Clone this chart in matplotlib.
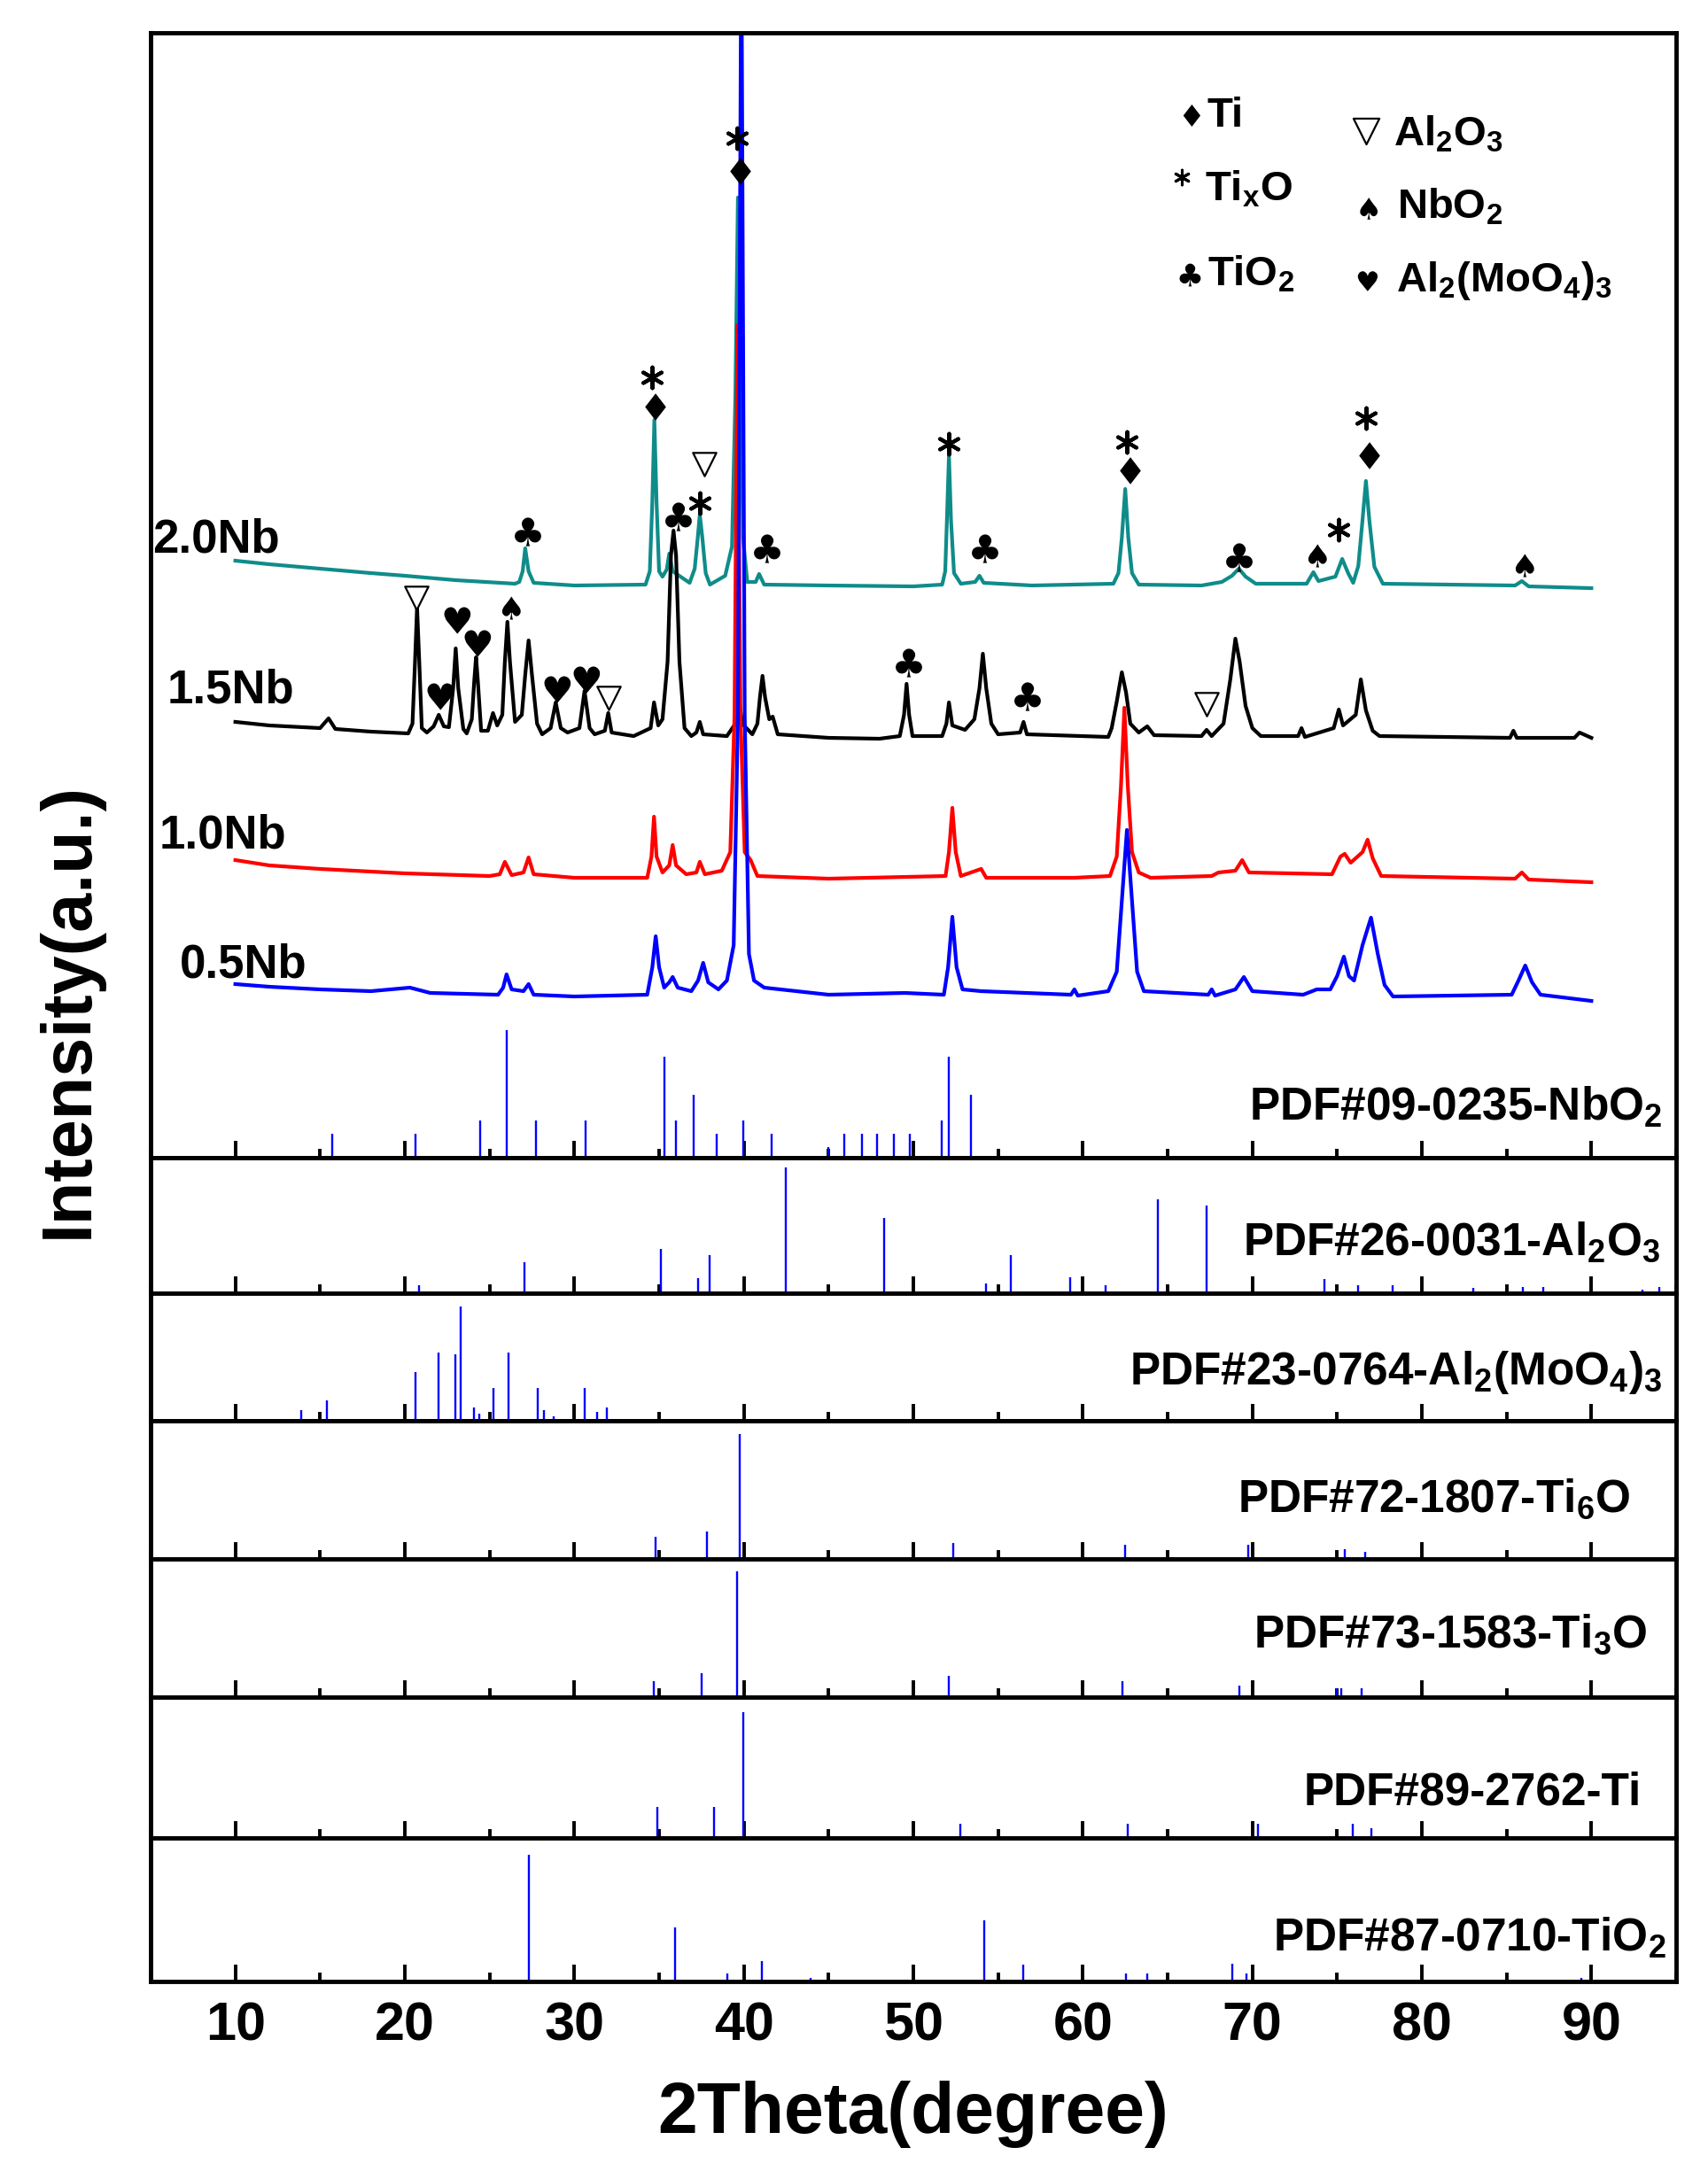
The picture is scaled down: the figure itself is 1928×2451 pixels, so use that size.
import matplotlib
matplotlib.use('Agg')
import matplotlib.pyplot as plt
from matplotlib.ticker import MultipleLocator, FixedLocator
from matplotlib.textpath import TextPath
from matplotlib.font_manager import FontProperties
from matplotlib.path import Path

# ---- data ----
# XRD patterns: (2theta, intensity a.u.) points, offset stacked as in the figure
pat_20 = [(10.0, 674), (12, 670), (15, 665), (18, 660), (20, 657), (23, 652), (26.5, 648),
          (26.75, 650), (26.95, 662), (27.1, 688), (27.3, 662), (27.6, 649), (30, 646), (34.2, 647),
          (34.45, 662), (34.6, 740), (34.72, 833), (34.85, 740), (35.0, 662), (35.2, 656),
          (35.45, 664), (35.6, 682), (35.8, 662), (36.8, 649), (37.1, 665), (37.28, 700),
          (37.4, 726), (37.55, 700), (37.75, 660), (38.0, 647), (38.9, 657), (39.3, 690),
          (39.5, 860), (39.65, 1084), (39.8, 900), (39.95, 700), (40.2, 650), (40.7, 650),
          (40.9, 659), (41.2, 647), (45, 646), (50, 645), (51.7, 647), (51.88, 662), (51.98, 720),
          (52.1, 793), (52.22, 720), (52.4, 660), (52.8, 648), (53.65, 650), (53.9, 657),
          (54.15, 649), (57, 646), (61.8, 648), (62.1, 660), (62.3, 700), (62.5, 755),
          (62.68, 700), (62.9, 660), (63.3, 647), (67, 646), (68.2, 650), (68.8, 657),
          (69.2, 665), (69.6, 656), (70.2, 648), (73.2, 648), (73.6, 661), (73.9, 651),
          (74.9, 656), (75.3, 676), (75.65, 660), (75.95, 649), (76.25, 668), (76.5, 720),
          (76.7, 764), (76.9, 720), (77.2, 667), (77.7, 648), (85.5, 646), (85.9, 651),
          (86.3, 645), (90.0, 643)]

pat_15 = [(10.0, 492), (12, 488), (15, 485), (15.5, 496), (15.9, 484), (18, 481), (20.2, 479),
          (20.45, 490), (20.6, 560), (20.72, 622), (20.85, 560), (21.0, 485), (21.3, 480),
          (21.7, 487), (22.0, 500), (22.3, 487), (22.6, 486), (22.85, 530), (23.0, 575),
          (23.15, 530), (23.45, 484), (23.65, 479), (23.95, 495), (24.1, 540), (24.2, 565),
          (24.3, 540), (24.5, 482), (24.9, 482), (25.2, 502), (25.45, 488), (25.75, 500),
          (25.9, 560), (26.05, 605), (26.2, 560), (26.5, 492), (26.9, 500), (27.1, 545),
          (27.3, 584), (27.5, 545), (27.8, 490), (28.1, 478), (28.6, 485), (28.9, 514),
          (29.2, 485), (29.6, 480), (30.3, 485), (30.6, 527), (30.9, 485), (31.2, 478),
          (31.8, 482), (32.0, 502), (32.2, 480), (33.5, 476), (34.5, 485), (34.7, 514),
          (34.95, 488), (35.2, 495), (35.5, 560), (35.7, 680), (35.85, 708), (36.0, 680),
          (36.2, 560), (36.5, 485), (36.9, 476), (37.2, 480), (37.4, 492), (37.6, 478),
          (39.0, 476), (39.5, 490), (39.7, 520), (39.9, 490), (40.5, 478), (40.8, 490),
          (40.95, 520), (41.1, 544), (41.25, 520), (41.5, 495), (41.7, 498), (42.0, 478),
          (45, 474), (48, 473), (49.2, 476), (49.45, 500), (49.6, 535), (49.75, 500),
          (49.95, 476), (51.7, 476), (51.95, 490), (52.1, 514), (52.3, 488), (53.05, 483),
          (53.6, 495), (53.9, 530), (54.1, 569), (54.3, 530), (54.6, 490), (55.0, 478),
          (56.3, 480), (56.5, 492), (56.7, 478), (61.5, 475), (61.7, 485), (62.0, 515),
          (62.3, 548), (62.55, 525), (62.8, 490), (63.3, 480), (63.8, 487), (64.2, 477),
          (67.0, 476), (67.3, 483), (67.6, 476), (68.3, 490), (68.7, 540), (69.0, 586),
          (69.25, 560), (69.6, 510), (70.0, 485), (70.5, 476), (72.7, 476), (72.9, 485),
          (73.1, 475), (74.8, 485), (75.1, 506), (75.35, 488), (76.1, 500), (76.4, 540),
          (76.7, 505), (77.1, 482), (77.5, 476), (85.2, 474), (85.4, 482), (85.6, 474),
          (89.0, 474), (89.3, 480), (90.0, 474)]

pat_10 = [(10.0, 336), (12, 330), (15, 326), (20, 321), (25, 318), (25.6, 320), (25.9, 334),
          (26.3, 319), (27.0, 322), (27.3, 339), (27.6, 320), (30, 316), (34.3, 316),
          (34.55, 340), (34.7, 385), (34.85, 340), (35.2, 322), (35.6, 330), (35.8, 353),
          (36.0, 330), (36.6, 320), (37.2, 322), (37.4, 334), (37.7, 320), (38.7, 324),
          (39.2, 345), (39.45, 500), (39.62, 940), (39.8, 500), (40.05, 345), (40.4, 336),
          (40.8, 318), (45, 315), (51.9, 318), (52.1, 345), (52.3, 395), (52.5, 345),
          (52.8, 318), (54.0, 326), (54.3, 316), (59.5, 316), (61.6, 318), (62.0, 340),
          (62.25, 420), (62.45, 508), (62.65, 420), (62.9, 345), (63.3, 322), (64, 316),
          (67.6, 318), (68.0, 322), (69.0, 324), (69.4, 336), (69.8, 322), (74.7, 320),
          (75.2, 340), (75.45, 343), (75.8, 333), (76.5, 345), (76.8, 359), (77.1, 338),
          (77.6, 318), (85.5, 315), (85.9, 322), (86.3, 314), (90.0, 311)]

pat_05 = [(10.0, 196), (12, 193), (15, 190), (18, 188), (20.3, 192), (21.5, 186), (25.5, 184),
          (25.8, 192), (26.0, 207), (26.3, 190), (27.0, 188), (27.3, 196), (27.6, 184), (30, 182),
          (34.3, 184), (34.6, 215), (34.8, 250), (35.0, 215), (35.3, 192), (35.6, 198),
          (35.8, 204), (36.1, 192), (36.9, 188), (37.3, 200), (37.6, 220), (37.9, 198),
          (38.5, 190), (39.0, 200), (39.4, 240), (39.65, 500), (39.85, 1400), (40.05, 500),
          (40.3, 230), (40.6, 200), (41.2, 192), (45, 184), (49.5, 186), (51.8, 184),
          (52.05, 215), (52.3, 272), (52.55, 215), (52.9, 190), (54.0, 188), (59.3, 184),
          (59.5, 190), (59.7, 183), (61.5, 188), (62.0, 210), (62.3, 290), (62.6, 370),
          (62.9, 290), (63.2, 210), (63.6, 188), (67.4, 184), (67.6, 190), (67.8, 183),
          (69.0, 190), (69.5, 204), (70.0, 188), (73.0, 184), (73.8, 190), (74.6, 190),
          (75.0, 205), (75.4, 227), (75.7, 205), (76.0, 200), (76.5, 240), (77.0, 271),
          (77.4, 230), (77.8, 195), (78.3, 182), (85.3, 184), (85.7, 200), (86.1, 217),
          (86.5, 198), (87, 184), (90.0, 177)]

sample_names = ['2.0Nb', '1.5Nb', '1.0Nb', '0.5Nb']
sample_colors = ['#0f8c8a', 'black', 'red', 'blue']

# phase marks on the peaks: (symbol, 2theta, intensity)
peak_marks = [('club', 27.1, 707), ('star', 34.6, 881), ('diamond', 34.6, 848),
              ('club', 36.0, 724), ('star', 37.4, 739), ('tri', 37.65, 783),
              ('star', 39.6, 1151), ('diamond', 39.6, 1114), ('club', 41.2, 688),
              ('star', 52.1, 806), ('club', 54.1, 688), ('star', 62.6, 808),
              ('diamond', 62.6, 776), ('club', 69.1, 678), ('spade', 73.7, 680),
              ('star', 75.1, 709), ('star', 76.7, 835), ('diamond', 76.7, 793),
              ('spade', 85.9, 669),
              ('tri', 20.7, 632), ('heart', 22.0, 521), ('heart', 23.0, 607),
              ('heart', 24.2, 581), ('spade', 26.1, 621), ('heart', 28.9, 529),
              ('heart', 30.6, 540), ('tri', 32.0, 519), ('club', 49.6, 559),
              ('club', 56.6, 521), ('tri', 67.3, 512)]

# standard cards: 2theta and relative intensity
nbo2_pos = [15.7, 20.65, 24.43, 26.0, 27.75, 30.66, 35.31, 36.01, 37.06, 38.4, 39.97, 41.65,
            44.97, 45.9, 46.95, 47.88, 48.87, 49.8, 51.66, 52.07, 53.41]
nbo2_int = [19, 19, 29, 100, 29, 29, 79, 29, 49, 19, 29, 19, 8, 19, 19, 19, 19, 19, 29, 79, 49]
al2o3_pos = [20.82, 27.05, 35.08, 37.29, 37.99, 42.47, 48.29, 54.28, 55.74, 59.23, 61.32,
             64.41, 67.32, 74.24, 76.22, 78.26, 83.03, 85.94, 87.16, 93.04, 94.03]
al2o3_int = [6, 25, 35, 12, 30, 100, 60, 8, 30, 13, 6, 75, 70, 11, 6, 6, 4, 5, 5, 3, 5]
almo_pos = [13.9, 15.41, 20.65, 21.99, 22.98, 23.27, 24.08, 24.37, 25.25, 26.12, 27.86, 28.21,
            28.8, 30.6, 31.36, 31.94]
almo_int = [9, 18, 43, 60, 58, 100, 12, 6, 29, 60, 29, 9, 4, 29, 8, 12]
ti6o_pos = [34.79, 37.81, 39.73, 52.36, 62.49, 69.76, 75.46, 76.68]
ti6o_int = [18, 22, 100, 13, 11, 11, 8, 6]
ti3o_pos = [21.81, 34.67, 37.52, 39.62, 52.07, 62.31, 69.24, 75.0, 75.23, 76.45, 85.59]
ti3o_int = [1, 13, 19, 100, 17, 13, 9, 7, 7, 7, 1]
ti_pos = [34.9, 38.22, 39.97, 52.77, 62.66, 70.34, 75.93, 77.03, 86.4]
ti_int = [25, 25, 100, 11, 11, 11, 11, 8, 1]
tio2_pos = [27.34, 35.95, 39.04, 41.07, 43.92, 54.17, 56.49, 62.55, 63.82, 68.83, 69.64,
            82.15, 89.43]
tio2_int = [100, 43, 6, 16, 3, 48, 13, 6, 6, 14, 6, 1, 3]

card_labels = [r'PDF#26-0031-Al$_2$O$_3$', r'PDF#23-0764-Al$_2$(MoO$_4$)$_3$',
               r'PDF#72-1807-Ti$_6$O', r'PDF#73-1583-Ti$_3$O', 'PDF#89-2762-Ti',
               r'PDF#87-0710-TiO$_2$']
xticks = [10, 20, 30, 40, 50, 60, 70, 80, 90]

# ---- style ----
plt.rcParams['font.family'] = ['Liberation Sans', 'DejaVu Sans']
plt.rcParams['font.weight'] = 'bold'
plt.rcParams['mathtext.fontset'] = 'custom'
plt.rcParams['mathtext.rm'] = 'Liberation Sans:bold'
plt.rcParams['mathtext.it'] = 'Liberation Sans:bold'
plt.rcParams['mathtext.bf'] = 'Liberation Sans:bold'
plt.rcParams['mathtext.default'] = 'rm'

W, H = 1928, 2451
fig = plt.figure(figsize=(W / 100, H / 100), dpi=100)
L, R = 170, 1892
edges = [37, 1307, 1460, 1604, 1760, 1916, 2075, 2237]


def glyph(ch):
    p = TextPath((0, 0), ch, prop=FontProperties(family='DejaVu Sans'))
    v = p.vertices.copy()
    x0, y0 = v.min(axis=0)
    x1, y1 = v.max(axis=0)
    v[:, 0] -= (x0 + x1) / 2
    v[:, 1] -= (y0 + y1) / 2
    return Path(v, p.codes)


sym = {'club': glyph('\u2663'), 'spade': glyph('\u2660'), 'heart': glyph('\u2665'),
       'diamond': glyph('\u2666')}
sym_size = {'club': 25, 'spade': 19, 'heart': 24, 'diamond': 22}


def style_axes(ax, last):
    ax.set_xlim(5, 95)
    for s in ax.spines.values():
        s.set_linewidth(3.5)
    ax.xaxis.set_major_locator(FixedLocator(xticks))
    ax.xaxis.set_minor_locator(MultipleLocator(5))
    ax.tick_params(axis='x', which='major', direction='in', length=14, width=2.8,
                   labelsize=44, pad=16, labelbottom=last)
    ax.tick_params(axis='x', which='minor', direction='in', length=7, width=2.8)
    ax.set_yticks([])


axes = []
for i in range(7):
    t, b = edges[i], edges[i + 1]
    ax = fig.add_axes([L / W, 1 - b / H, (R - L) / W, (b - t) / H])
    style_axes(ax, i == 6)
    axes.append(ax)

# main panel: patterns + NbO2 card
ax0 = axes[0]
ax0.set_ylim(0, edges[1] - edges[0])
for pat, c in zip([pat_20, pat_15, pat_10, pat_05], sample_colors):
    xs = [p[0] for p in pat]
    ys = [p[1] for p in pat]
    ax0.plot(xs, ys, color=c, lw=3.0, solid_joinstyle='round')

label_pos = [(5.1, 684), (5.95, 514), (5.5, 350), (6.7, 204)]
for name, (x, y) in zip(sample_names, label_pos):
    ax0.text(x, y, name, fontsize=38, fontweight='bold', ha='left', va='baseline')

for s, x, y in peak_marks:
    if s == 'star':
        ax0.scatter(x, y, marker=(6, 2, 0), s=17 ** 2, color='black', linewidths=3, zorder=5)
    elif s == 'tri':
        ax0.scatter(x, y, marker='v', s=19 ** 2, facecolors='white', edgecolors='black',
                    linewidths=1.6, zorder=5)
    else:
        ax0.scatter(x, y, marker=sym[s], s=sym_size[s] ** 2, color='black', linewidths=0,
                    zorder=5)

# legend of phases
leg_sym = [('diamond', 66.25, 1177, 18), ('club', 66.2, 997, 20), ('spade', 76.69, 1072, 18),
           ('heart', 76.69, 990, 18)]
for s, x, y, sz in leg_sym:
    ax0.scatter(x, y, marker=sym[s], s=sz ** 2, color='black', linewidths=0)
ax0.scatter(65.83, 1107, marker=(6, 2, 0), s=12 ** 2, color='black', linewidths=2.2)
ax0.scatter(76.69, 1159, marker='v', s=21 ** 2, facecolors='white', edgecolors='black',
            linewidths=1.6)
leg_txt = [('Ti', 67.33, 1164), (r'Ti$_x$O', 67.18, 1080), (r'TiO$_2$', 67.33, 984),
           (r'Al$_2$O$_3$', 78.34, 1143), (r'NbO$_2$', 78.54, 1060),
           (r'Al$_2$(MoO$_4$)$_3$', 78.5, 978)]
for t, x, y in leg_txt:
    ax0.text(x, y, t, fontsize=34, fontweight='bold', ha='left', va='baseline')

ax0.vlines(nbo2_pos, 0, [v * 1.44 for v in nbo2_int], color='blue', lw=1.7)
ax0.text(94.2, 42, r'PDF#09-0235-NbO$_2$', fontsize=37, fontweight='bold', ha='right',
         va='baseline')

# reference card panels
cards = [(al2o3_pos, al2o3_int, 142), (almo_pos, almo_int, 129), (ti6o_pos, ti6o_int, 141),
         (ti3o_pos, ti3o_int, 142), (ti_pos, ti_int, 142), (tio2_pos, tio2_int, 143)]
label_x = [94.1, 94.2, 92.3, 93.3, 92.95, 94.4]
label_up = [43, 41, 53, 56, 37, 34]
for i, ((pos, inten, scale), lab) in enumerate(zip(cards, card_labels)):
    ax = axes[i + 1]
    hpx = edges[i + 2] - edges[i + 1]
    ax.set_ylim(0, hpx * 100 / scale)
    ax.vlines(pos, 0, inten, color='blue', lw=1.7)
    ax.text(label_x[i], label_up[i] / hpx, lab, transform=ax.get_xaxis_transform(),
            fontsize=37, fontweight='bold', ha='right', va='baseline')

fig.text((L + R) / 2 / W, 1 - 2408 / H, '2Theta(degree)', fontsize=58, fontweight='bold',
         ha='center', va='baseline')
fig.text(78 / W, 1 - 1141 / H, 'Intensity(a.u.)', fontsize=57, fontweight='bold',
         rotation=90, ha='center', va='center')

fig.savefig('out.png', dpi=100, facecolor='white')
